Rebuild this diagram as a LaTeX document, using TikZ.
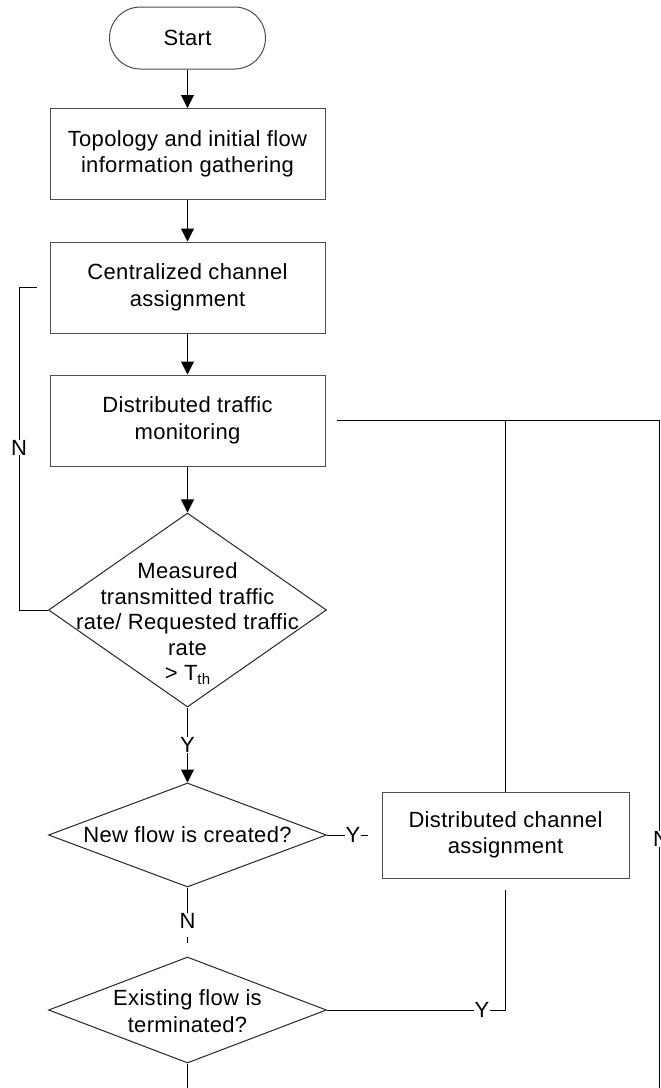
\documentclass[tikz,border=0pt]{standalone}
\usepackage{fontspec}
\setmainfont{Liberation Sans}[LetterSpace=1.5]
\usetikzlibrary{shapes.geometric,arrows.meta}
\begin{document}
\begin{tikzpicture}[x=1pt,y=-1pt,
  every node/.style={font=\fontsize{22}{26.5}\selectfont},
  proc/.style={draw=black!70, line width=1pt, minimum width=275pt, minimum height=91pt, inner sep=0pt, align=center},
  term/.style={draw=black!70, line width=1pt, rounded corners=31pt, minimum width=156pt, minimum height=62pt, inner sep=0pt},
  decision/.style={draw=black!85, line width=1pt, diamond, inner sep=0pt, minimum width=278pt},
  txt/.style={align=center, inner sep=0pt},
  lbl/.style={inner sep=0pt},
  flow/.style={line width=1pt, -{Triangle[width=13pt,length=13pt]}},
  wire/.style={line width=1pt}
]
\useasboundingbox (0,0) rectangle (661,1088);

% main column
\node[term] (start) at (187.5,38) {Start};
\node[proc] (gather) at (187.5,154) {Topology and initial flow\\information gathering};
\node[proc] (central) at (187.5,287.5) {Centralized channel\\assignment};
\node[proc] (monitor) at (187.5,420.5) {Distributed traffic\\monitoring};
\node[decision, minimum height=194pt] (ratio) at (187.5,610) {};
\node[txt, font=\fontsize{22}{25.5}\selectfont] (ratiotext) at (187.5,624) {Measured\\transmitted traffic\\rate/ Requested traffic\\rate\\> T\raisebox{-4pt}{\fontsize{15}{15}\selectfont th}};
\node[decision, minimum height=104pt] (newflow) at (187.5,835) {};
\node[txt] (newflowtext) at (187.5,835) {New flow is created?};
\node[decision, minimum height=106pt] (endflow) at (187.5,1010) {};
\node[txt] (endflowtext) at (187.5,1011) {Existing flow is\\terminated?};

% side process
\node[proc, minimum width=247pt, minimum height=86pt] (dca) at (505.5,835) {Distributed channel\\assignment};

% straight flow
\draw[flow] (start) -- (gather);
\draw[flow] (gather) -- (central);
\draw[flow] (central) -- (monitor);
\draw[flow] (monitor) -- (ratio);
\node[lbl] (ylab) at (187.5,745) {Y};
\draw[wire] (ratio) -- (ylab);
\draw[flow] (ylab) -- (newflow);

% N loop back to centralized assignment
\coordinate (loopL) at (19,610);
\coordinate (loopT) at (19,287);
\coordinate (loopEnd) at (37,287);
\node[lbl] (nloop) at (19,447.5) {N};
\draw[wire] (ratio.west) -- (loopL) -- (nloop);
\draw[wire] (nloop) -- (loopT) -- (loopEnd);

% N from new flow to existing flow
\node[lbl] (nlab) at (187.5,920.5) {N};
\draw[wire] (newflow) -- (nlab);
\coordinate (ndashA) at (187.5,937);
\coordinate (ndashB) at (187.5,943);
\draw[wire] (ndashA) -- (ndashB);

% Y from new flow towards distributed assignment
\node[lbl] (ynew) at (353,835) {Y};
\coordinate (ytail) at (368,835);
\draw[wire] (newflow) -- (ynew);
\draw[wire] (ynew) -- (ytail);

% bus from monitoring
\coordinate (busStart) at (337,420.5);
\coordinate (busJoin) at (505.5,420.5);
\coordinate (busEnd) at (659,420.5);
\node[lbl] (nright) at (661,839) {N};
\coordinate (rightFoot) at (659,1088);
\draw[wire] (busStart) -- (busEnd) -- (busEnd |- nright.north);
\draw[wire] (busEnd |- nright.south) -- (rightFoot);
\draw[wire] (busJoin) -- (dca);

% return from distributed assignment
\coordinate (dcaTail) at (505.5,890);
\coordinate (dcaCorner) at (505.5,1010);
\node[lbl] (yend) at (482,1010) {Y};
\draw[wire] (dcaTail) -- (dcaCorner) -- (yend);
\draw[wire] (yend) -- (endflow);

% exit
\coordinate (bottomEnd) at (187.5,1088);
\draw[wire] (endflow) -- (bottomEnd);
\end{tikzpicture}
\end{document}
